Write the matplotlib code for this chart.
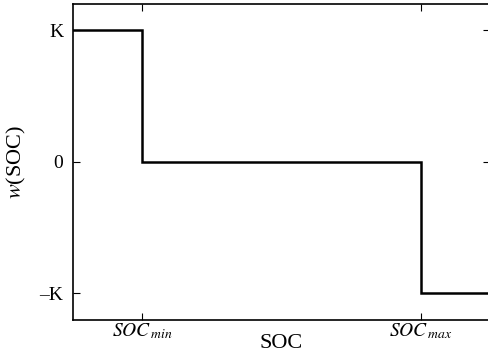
import matplotlib
matplotlib.use("Agg")
import matplotlib.pyplot as plt

# step function w(SOC)
soc_min = 0.166
soc_max = 0.834
x_steps = [0.0, soc_min, soc_min, soc_max, soc_max, 1.0]
w_steps = [1, 1, 0, 0, -1, -1]

x_ticks = [soc_min, soc_max]
x_ticklabels = [r"$SOC_{\,min}$", r"$SOC_{\,max}$"]
y_ticks = [-1, 0, 1]
y_ticklabels = ["\u2013K", "0", "K"]

plt.rcParams["font.family"] = "Liberation Serif"
plt.rcParams["mathtext.fontset"] = "stix"

fig = plt.figure(figsize=(4.89, 3.6), dpi=100)
ax = fig.add_axes([73 / 489, 40 / 360, 417 / 489, 316 / 360])

ax.plot(x_steps, w_steps, color="black", lw=1.8, solid_joinstyle="miter")
ax.set_xlim(0, 1)
ax.set_ylim(-1.205, 1.2)

ax.set_xticks(x_ticks)
ax.set_xticklabels(x_ticklabels, fontsize=14)
ax.set_yticks(y_ticks)
ax.set_yticklabels(y_ticklabels, fontsize=14)
ax.tick_params(direction="in", length=5, width=0.8, top=True, right=True)
ax.tick_params(axis="x", pad=1)
ax.tick_params(axis="y", pad=7)

ax.set_xlabel("SOC", fontsize=16, va="center")
ax.xaxis.set_label_coords(0.5, -0.075)
ax.set_ylabel(r"$w$(SOC)", fontsize=16, va="center")
ax.yaxis.set_label_coords(-0.135, 0.5)

for s in ax.spines.values():
    s.set_linewidth(1.2)

fig.savefig("out.png", dpi=100)
